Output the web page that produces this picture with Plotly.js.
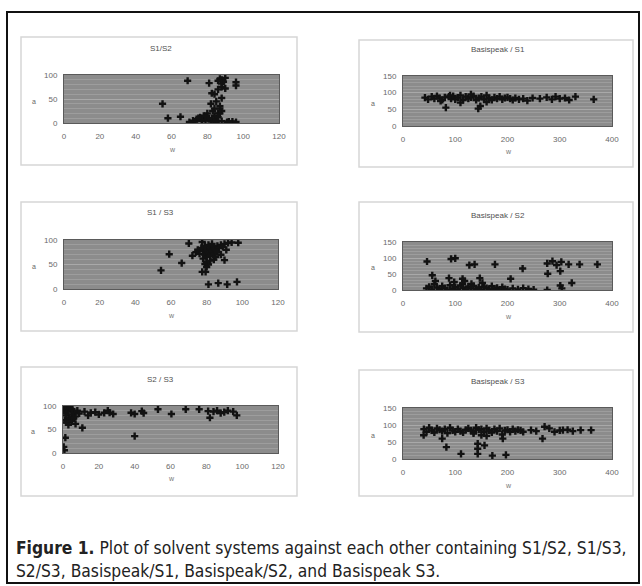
<!DOCTYPE html>
<html>
<head>
<meta charset="utf-8">
<script src="https://cdn.plot.ly/plotly-3.0.1.min.js"></script>
<style>html,body{margin:0;padding:0;background:#fff;}#chart{width:642px;height:586px;}</style>
</head>
<body>
<div id="chart"></div>
<script>
// ---- Data ----
const titles = ["S1/S2", "Basispeak / S1", "S1 / S3", "Basispeak / S2", "S2 / S3", "Basispeak / S3"];
const xRanges = [[0,120],[0,400],[0,120],[0,400],[0,120],[0,400]];
const yRanges = [[0,100],[0,150],[0,100],[0,150],[0,100],[0,150]];
const xTicks = [[0,20,40,60,80,100,120],[0,100,200,300,400],[0,20,40,60,80,100,120],[0,100,200,300,400],[0,20,40,60,80,100,120],[0,100,200,300,400]];
const yTicksSmall = [0,50,100];
const yTicksLarge = [0,50,100,150];

const s1s2_x = [69,55,58,65,88,87,89,86,90,88,81,96,96,82.5,88,85,84,87,83,80,78,76,74,72,70,73,77,79,82,85,88,91,94,96,80,84,86,88,83,81,79,77,75,86,88,90,92,84,82,85,87,87,86];
const s1s2_y = [88,40,10,13,90,92,86,88,94,82,83,85,78,62,52,45,30,35,25,20,15,12,8,5,2,3,4,6,3,2,4,2,3,2,10,15,20,25,8,10,14,5,10,70,75,72,3,60,40,5,30,20,12];

const bp_s1_x = [42,48,55,60,65,70,75,80,82,88,92,96,100,105,110,115,120,125,130,135,140,145,148,150,155,160,165,170,175,180,185,190,195,200,205,210,215,222,230,238,248,262,275,285,292,300,310,318,330,365,72,144,110,160,90,130];
const bp_s1_y = [85,80,88,82,90,84,78,86,55,88,82,90,80,85,92,78,88,82,86,90,78,84,60,88,80,92,84,78,86,82,88,80,84,86,82,78,84,80,82,76,84,82,86,80,88,82,84,78,88,80,75,52,70,72,92,95];

const s1s3_x = [70,77.5,97.7,59,66,54.4,77.5,79.4,90,81,86.5,91.5,97,74,76,78,80,82,84,86,88,90,92,94,79,81,83,85,87,89,78,80,82,84,86,75,77,79,81,83,80,82,84,79,81,80,85,88,72,91];
const s1s3_y = [93,96,94.5,71,53,38,35,35,59,9.4,12,9.4,14.5,75,72,78,80,82,85,88,90,92,94,95,70,74,77,80,84,86,62,65,68,72,75,80,84,88,90,92,55,58,60,51,50,45,65,70,68,80];

const bp_s2_x = [46,92,100,127,137,176,229,206,147,276,277,286,294,301,303,317,338,372,323,301,304,276,56,88,114,114,131,45,50,55,60,65,70,75,80,85,90,95,100,105,110,115,120,125,130,135,140,145,150,155,160,165,170,175,180,185,190,195,200,210,220,230,240,250,62,98,118,152];
const bp_s2_y = [89,97,99,78,80,80,67,35,37,83,51,90,78,59,88,80,80,80,22,14,5,0,46,37,35,19,19,5,10,2,18,8,3,12,6,0,15,4,9,2,14,7,0,11,5,13,3,8,1,10,6,2,12,4,7,0,9,3,1,5,2,6,3,1,28,25,28,22];

const s2s3_x = [0.5,1,1.5,2,2.5,3,3.5,4,5,6,7,8,9,1,2,3,4,5,6,7,1,2,3,4,5,10.8,1.3,0.4,0.8,15.5,20,23,28,12,14,18,25,38,40,44,40,53,60.5,68.5,76,81,82,84,86,88,90,92,95,97,26,45];
const s2s3_y = [95,90,85,80,92,88,75,70,82,86,78,90,84,70,65,60,72,68,74,62,98,100,96,97,93,53.6,32.6,13,5.8,85.5,82,85.5,83,88,80,87,90,85.5,83,89,36,93,83,93,93,89,75,88,90,85,87,90,88,80,86,85];

const bp_s3_x = [39.5,83,75,111,143,143,143,156,171,197,267,271,306,360,191,40,45,50,55,60,65,70,75,80,85,90,95,100,105,110,115,120,125,130,135,140,145,150,155,160,165,170,175,180,185,190,195,200,205,210,215,220,225,230,245,255,280,290,300,315,325,340,150,135,160];
const bp_s3_y = [70,35,60,15,15,30,45,40,10,12,60,95,85,85,60,88,80,92,84,78,90,86,82,88,76,92,84,80,88,82,78,86,90,84,80,92,86,88,80,90,84,78,88,82,90,72,84,86,80,88,82,86,84,80,85,82,90,80,84,86,82,85,70,75,68];

const seriesX = [s1s2_x, bp_s1_x, s1s3_x, bp_s2_x, s2s3_x, bp_s3_x];
const seriesY = [s1s2_y, bp_s1_y, s1s3_y, bp_s2_y, s2s3_y, bp_s3_y];

const captionLine1 = "<b>Figure 1.</b> Plot of solvent systems against each other containing S1/S2, S1/S3,";
const captionLine2 = "S2/S3, Basispeak/S1, Basispeak/S2, and Basispeak S3.";

// ---- Layout geometry (pixels) ----
const W = 642, H = 586;
const px = v => v / W;
const py = v => 1 - v / H;
const plotBoxes = [
  [64,279,75,123],
  [403,612,76,126],
  [64,278,240,289],
  [403,612,242,290],
  [63,278,406,453],
  [403,612,408,459]
];
const frames = [
  [21,297,37,165],
  [359,633,40,167],
  [21,297,202,331],
  [359,633,202,332],
  [21,297,367,496],
  [359,633,370,496]
];

const traces = [];
const layout = {
  width: W, height: H,
  margin: {l:0,r:0,t:0,b:0},
  paper_bgcolor: '#ffffff',
  plot_bgcolor: '#8c8c8c',
  showlegend: false,
  shapes: [],
  annotations: []
};

const tickFont = {family: 'Liberation Sans, Arial, sans-serif', size: 8, color: '#6a6a6a'};

for (let i = 0; i < 6; i++) {
  const n = i + 1;
  const sfx = n === 1 ? '' : String(n);
  const xa = 'x' + sfx;
  const ya = 'y' + sfx;
  const b = plotBoxes[i];
  traces.push({
    type: 'scatter', mode: 'markers',
    x: seriesX[i], y: seriesY[i],
    xaxis: xa, yaxis: ya,
    marker: {symbol: 'cross', size: 6, color: '#121212'},
    hoverinfo: 'skip'
  });
  const big = yRanges[i][1] > 100;
  layout['xaxis' + sfx] = {
    domain: [px(b[0]), px(b[1])],
    anchor: ya,
    range: xRanges[i],
    tickvals: xTicks[i],
    showgrid: false, zeroline: false,
    showline: true, mirror: true, linecolor: '#5a5a5a', linewidth: 1,
    ticks: 'outside', ticklen: 5, tickcolor: 'rgba(0,0,0,0)',
    tickfont: tickFont, fixedrange: true
  };
  layout['yaxis' + sfx] = {
    domain: [py(b[3]), py(b[2])],
    anchor: xa,
    range: yRanges[i],
    tickvals: big ? yTicksLarge : yTicksSmall,
    showgrid: true, gridcolor: '#a9a9a9', gridwidth: 1,
    minor: {dtick: 10, showgrid: true, gridcolor: '#9d9d9d', gridwidth: 1},
    zeroline: false,
    showline: true, mirror: true, linecolor: '#5a5a5a', linewidth: 1,
    ticks: 'outside', ticklen: 4, tickcolor: 'rgba(0,0,0,0)',
    tickfont: tickFont, fixedrange: true
  };

  // frames
  const f = frames[i];
  layout.shapes.push({type:'rect', xref:'paper', yref:'paper',
    x0: px(f[0]), x1: px(f[1]), y0: py(f[3]), y1: py(f[2]),
    line: {color: '#d6d6d6', width: 1.5}, fillcolor: 'rgba(0,0,0,0)', layer: 'below'});

  // subplot title
  layout.annotations.push({xref:'paper', yref:'paper',
    x: px((f[0] + f[1]) / 2 + 2), y: py(b[2] - 27), xanchor:'center', yanchor:'middle',
    text: titles[i], showarrow:false,
    font: {family:'Liberation Sans, Arial, sans-serif', size: 8, color:'#505050'}});
  // axis titles
  layout.annotations.push({xref:'paper', yref:'paper',
    x: px((b[0] + b[1]) / 2 + 1), y: py(b[3] + 26), xanchor:'center', yanchor:'middle',
    text: 'w', showarrow:false,
    font: {family:'Liberation Sans, Arial, sans-serif', size: 7, color:'#777777'}});
  layout.annotations.push({xref:'paper', yref:'paper',
    x: px(b[0] - 30), y: py((b[2] + b[3]) / 2 + 2), xanchor:'center', yanchor:'middle',
    text: 'a', showarrow:false,
    font: {family:'Liberation Sans, Arial, sans-serif', size: 7, color:'#666666'}});
}

// outer border
layout.shapes.push({type:'rect', xref:'paper', yref:'paper',
  x0: px(7), x1: px(639), y0: py(583), y1: py(12),
  line: {color:'#111111', width: 2}, fillcolor:'rgba(0,0,0,0)'});

// caption
const capFont = {family:'DejaVu Sans Condensed, Liberation Sans Narrow, Arial Narrow, sans-serif', size: 17.3, color:'#222222'};
layout.annotations.push({xref:'paper', yref:'paper', x: px(14), y: py(548),
  xanchor:'left', yanchor:'middle', text: captionLine1, showarrow:false, font: capFont});
layout.annotations.push({xref:'paper', yref:'paper', x: px(14), y: py(571),
  xanchor:'left', yanchor:'middle', text: captionLine2, showarrow:false, font: capFont});

Plotly.newPlot('chart', traces, layout, {displayModeBar:false, staticPlot:true});
</script>
</body>
</html>
